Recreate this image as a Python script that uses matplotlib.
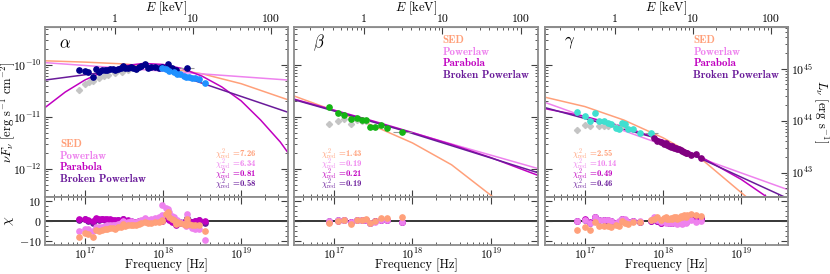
#!/usr/bin/env python3
import numpy as np
import matplotlib
matplotlib.use('Agg')
import matplotlib.pyplot as plt
from matplotlib.ticker import (LogLocator, NullFormatter, FixedLocator,
                               FuncFormatter, MultipleLocator)

HZ_PER_KEV = 2.418e17
LOG_LUM_OFFSET = 55.07          # log10 of L_nu / (nu F_nu) scale on the right axis
LOG_XLIM = (16.49, 19.60)
LOG_YLIM = (-12.54, -9.27)

MODEL_NAMES = ['SED', 'Powerlaw', 'Parabola', 'Broken Powerlaw']
MODEL_COLORS = ['#ffa07a', '#ee82ee', '#c000c0', '#6a1b9a']

# ---------------- panel alpha ----------------
a_nu_dark = [16.927, 16.996, 17.038, 17.099, 17.145, 17.183, 17.218, 17.253, 17.286, 17.321,
             17.355, 17.388, 17.423, 17.458, 17.483, 17.517, 17.551, 17.586, 17.619, 17.654,
             17.688, 17.722, 17.765, 17.808, 17.850, 17.894, 17.945, 17.987, 18.064, 18.115,
             18.167, 18.308]
a_flux_dark = [-10.096, -10.121, -10.140, -10.237, -10.077, -10.129, -10.102, -10.090, -10.090, -10.083,
               -10.077, -10.096, -10.077, -10.063, -10.013, -10.063, -10.052, -10.038, -10.063, -10.077,
               -10.044, -10.019, -9.987, -10.052, -10.038, -10.038, -10.052, -10.038, -9.987, -10.063,
               -10.102, -10.052]
a_nu_light = [17.987, 18.038, 18.081, 18.137, 18.179, 18.222, 18.265, 18.295, 18.329, 18.372,
              18.414, 18.458, 18.542]
a_flux_light = [-10.052, -10.077, -10.115, -10.140, -10.167, -10.179, -10.206, -10.225, -10.231, -10.244,
                -10.256, -10.269, -10.352]
a_nu_grey = [16.927, 16.996, 17.047, 17.100, 17.175, 17.240, 17.300, 17.390, 17.470, 17.550, 17.650]
a_flux_grey = [-10.48, -10.36, -10.33, -10.30, -10.26, -10.22, -10.19, -10.16, -10.13, -10.10, -10.08]

# residuals (dark points followed by light points)
a_res_sed = [-8.2, -6.0, -6.5, -8.0, -4.5, -5.0, -4.5, -4.0, -4.0, -3.5, -3.5, -3.8, -3.0, -2.8, -1.5, -2.5,
             -2.2, -1.8, -2.0, -2.2, -1.5, -1.0, -0.3, -1.2, -0.8, -0.5, -0.3, 0.2, 4.5, 1.0, -1.5, 1.0,
             0.5, 3.5, 2.0, 0.5, -0.5, -1.0, -1.5, -2.0, -1.5, -2.0, -1.8, -2.0, -4.8]
a_res_pl = [-5.2, -3.8, -4.2, -5.2, -3.0, -3.2, -2.8, -2.5, -2.2, -2.0, -1.8, -2.0, -1.5, -1.2, 0.0, -0.8,
            -0.5, 0.0, -0.5, -0.5, 0.2, 0.5, 1.5, 0.5, 1.0, 1.5, 2.0, 8.0, 6.0, 2.5, -0.5, 3.5,
            3.0, 6.5, 4.5, 2.0, 0.5, -0.5, -1.5, -2.5, -2.0, -3.5, -3.8, -4.0, -9.5]
a_res_par = [1.2, 1.0, 0.5, 0.0, 1.5, 1.0, 1.2, 0.8, 1.0, 0.8, 0.5, 0.3, 0.5, 0.2, 1.0, 0.0,
             0.3, 0.2, -0.3, -0.5, 0.0, 0.2, 0.8, -0.5, -0.2, 0.0, 0.0, -0.2, 2.0, -0.5, -2.0, 0.5,
             0.0, 1.5, 0.5, -0.5, -0.5, -0.8, -0.8, -1.0, -0.3, -0.5, 0.0, 0.5, 0.0]
a_res_bpl = [0.5, 0.8, 0.2, -0.8, 1.0, 0.5, 0.8, 0.5, 0.5, 0.3, 0.2, 0.0, 0.3, 0.0, 1.0, -0.3,
             0.0, 0.2, -0.5, -0.5, 0.0, 0.2, 1.0, -0.2, 0.0, 0.2, 0.3, 0.3, 2.5, 0.0, -1.5, 1.5,
             0.3, 1.8, 0.8, 0.0, -0.3, -0.5, -0.5, -0.8, -0.2, -0.5, 0.0, 0.3, -1.0]
a_chi = [7.26, 6.34, 0.81, 0.58]

# model curves, sampled from the figure (log nu, log nuF_nu)
a_sed_nu = [16.49, 17.0, 17.5, 18.0, 18.5, 19.0, 19.6]
a_sed = [-9.92, -9.945, -9.98, -10.05, -10.17, -10.36, -10.67]
a_pl_nu = [16.49, 19.6]
a_pl = [-9.955, -10.29]
a_par_nu = [16.49, 16.75, 17.0, 17.25, 17.5, 17.75, 18.0, 18.25, 18.5, 18.75, 19.0, 19.25, 19.5, 19.63]
a_par = [-10.82, -10.52, -10.29, -10.12, -10.015, -9.971, -9.99, -10.07, -10.215, -10.42,
         -10.69, -11.06, -11.48, -11.75]
a_bpl_nu = [16.49, 17.85, 19.6]
a_bpl = [-10.29, -10.02, -10.91]

# ---------------- panel beta ----------------
b_nu_green = [16.936, 17.047, 17.128, 17.214, 17.286, 17.350, 17.400, 17.458, 17.526, 17.594,
              17.680, 17.868]
b_flux_green = [-10.813, -10.923, -10.956, -11.044, -11.025, -11.063, -11.063, -11.190, -11.187, -11.160,
                -11.217, -11.290]
b_nu_grey = [16.936, 17.047, 17.128, 17.214, 17.286, 17.350, 17.400]
b_flux_grey = [-11.14, -11.07, -11.04, -11.13, -11.06, -11.08, -11.08]
b_res_sed = [-1.0, 0.0, 0.3, -1.3, 0.3, 0.5, 0.8, -1.0, 0.0, 1.3, 1.3, 2.2]
b_res_pl = [-0.2, 0.3, 0.5, -0.5, 0.3, 0.3, 0.5, -0.8, -0.3, 0.5, 0.5, -0.5]
b_res_par = [-0.3, 0.2, 0.5, -0.6, 0.3, 0.3, 0.5, -0.8, -0.2, 0.5, 0.5, -0.4]
b_res_bpl = [-0.2, 0.3, 0.5, -0.5, 0.3, 0.3, 0.5, -0.8, -0.2, 0.6, 0.6, -0.3]
b_chi = [1.43, 0.19, 0.21, 0.19]

b_sed_nu = [16.49, 17.0, 17.5, 18.0, 18.5, 19.1]
b_sed = [-10.60, -10.88, -11.17, -11.50, -11.92, -12.62]
b_pl_nu = [16.49, 19.6]
b_pl = [-10.66, -11.99]
b_par_nu = [16.49, 17.0, 17.5, 18.0, 18.5, 19.0, 19.6]
b_par = [-10.66, -10.87, -11.08, -11.30, -11.53, -11.78, -12.12]
b_bpl_nu = [16.49, 17.9, 19.6]
b_bpl = [-10.67, -11.27, -12.07]

# ---------------- panel gamma ----------------
g_nu_cyan = [16.901, 17.000, 17.064, 17.124, 17.180, 17.244, 17.300, 17.340, 17.394, 17.436,
             17.478, 17.510, 17.555, 17.615, 17.705, 17.853]
g_flux_cyan = [-10.898, -10.975, -11.071, -10.933, -11.071, -11.077, -11.110, -11.135, -11.210, -11.230,
               -11.120, -11.144, -11.240, -11.230, -11.310, -11.310]
g_nu_purple = [17.885, 17.927, 17.970, 18.013, 18.035, 18.055, 18.077, 18.099, 18.120, 18.141,
               18.162, 18.183, 18.205, 18.227, 18.248, 18.269, 18.290, 18.312, 18.355, 18.420, 18.483]
g_flux_purple = [-11.41, -11.456, -11.475, -11.52, -11.50, -11.54, -11.55, -11.57, -11.56, -11.59,
                 -11.60, -11.615, -11.62, -11.635, -11.66, -11.667, -11.69, -11.70, -11.73, -11.717, -11.79]
g_nu_grey = [16.901, 17.000, 17.064, 17.180, 17.244, 17.300, 17.394, 17.478]
g_flux_grey = [-11.25, -11.16, -11.18, -11.17, -11.18, -11.17, -11.20, -11.17]
g_res_sed = [-4.3, -3.2, -4.5, -0.5, -2.7, -2.5, -2.7, -3.2, -2.2, -2.5, -0.2, -0.8, -1.5, -0.5, -0.5, 0.5,
             1.2, 1.8, 0.5, 1.5, 2.0, 0.8, 1.2, 1.5, 0.8, 1.8, 2.2, 1.0, 1.5, 2.5, 1.8, 2.8, 2.0, 3.0,
             3.5, 3.2, 2.5]
g_res_pl = [-0.2, 0.5, -0.8, 1.8, 0.3, 0.5, 0.3, -0.2, -1.0, 0.0, 1.2, 0.8, -0.3, 0.2, 0.0, 0.5,
            1.8, 0.5, -0.5, 0.0, -0.8, -0.5, -1.0, -0.3, -1.2, -0.5, 0.0, -1.5, -0.8, -0.2, -1.3, -0.5,
            -1.0, 0.0, 0.5, -0.3, -0.2]
g_res_par = [0.2, 0.8, -0.5, 2.2, 0.5, 0.5, 0.3, 0.0, -0.8, -0.5, 1.0, 0.5, -0.5, 0.0, -0.3, 0.0,
             1.0, 0.2, -0.8, 0.2, -0.5, -0.5, -0.8, 0.0, -1.0, -0.2, 0.3, -1.0, -0.5, 0.2, -0.8, 0.0,
             -0.5, 0.5, 1.0, 0.3, 0.8]
g_res_bpl = [0.0, 0.5, -0.8, 2.0, 0.3, 0.3, 0.2, -0.2, -1.0, -0.7, 0.8, 0.3, -0.7, -0.2, -0.5, -0.2,
             1.0, 0.0, -0.8, 0.0, -0.5, -0.5, -0.8, 0.0, -1.0, -0.3, 0.2, -1.2, -0.5, 0.0, -1.0, 0.0,
             -0.5, 0.3, 0.8, 0.5, 1.5]
g_chi = [2.55, 10.14, 0.49, 0.46]

g_sed_nu = [16.49, 17.0, 17.5, 18.0, 18.5, 19.1]
g_sed = [-10.62, -10.80, -11.06, -11.40, -11.82, -12.58]
g_pl_nu = [16.49, 19.6]
g_pl = [-10.72, -12.40]
g_par_nu = [16.49, 17.0, 17.5, 18.0, 18.5, 19.0, 19.35]
g_par = [-10.84, -10.99, -11.19, -11.45, -11.78, -12.20, -12.56]
g_bpl_nu = [16.49, 17.9, 19.6]
g_bpl = [-10.82, -11.40, -12.57]


def lin(v):
    return np.power(10.0, np.asarray(v, dtype=float))


def xerr_of(log_nu, dex=0.022, last=None):
    nu = lin(log_nu)
    d = np.full(len(nu), dex)
    if last is not None:
        d[-1] = last
    return [nu - nu * 10 ** -d, nu * 10 ** d - nu]


def style_axis(ax, spine_col='0.55'):
    for s in ax.spines.values():
        s.set_color(spine_col)
        s.set_linewidth(1.3)
    ax.tick_params(which='both', direction='in', color='0.25', labelsize=8.5, pad=2.5)
    ax.tick_params(which='major', length=5, width=0.8)
    ax.tick_params(which='minor', length=2.5, width=0.6)


def draw_panel(fig, left, panel):
    width = 0.2928
    ax = fig.add_axes([left, 0.281, width, 0.6204])
    rax = fig.add_axes([left, 0.1058, width, 0.1752], sharex=ax)

    ax.set_xscale('log')
    ax.set_yscale('log')
    ax.set_xlim(lin(LOG_XLIM[0]), lin(LOG_XLIM[1]))
    ax.set_ylim(lin(LOG_YLIM[0]), lin(LOG_YLIM[1]))

    # model curves
    for (cnu, cval), col in zip(panel['curves'], MODEL_COLORS):
        ax.plot(lin(cnu), lin(cval), color=col, lw=1.1, zorder=2)

    # absorbed data (grey diamonds)
    gnu, gfl = panel['grey']
    ax.errorbar(lin(gnu), lin(gfl), xerr=xerr_of(gnu), yerr=lin(gfl) * 0.06,
                fmt='D', ms=3.1, color='#c4c4c4', ecolor='#c4c4c4', elinewidth=0.8,
                capsize=0, zorder=3)
    # unabsorbed data
    for (dnu, dfl, col, last) in panel['data']:
        ax.errorbar(lin(dnu), lin(dfl), xerr=xerr_of(dnu, last=last), yerr=lin(dfl) * 0.06,
                    fmt='o', ms=3.8, color=col, ecolor='0.6', elinewidth=0.8,
                    capsize=0, zorder=4)

    # residuals, SED drawn last so it sits on top
    rnu = lin(panel['res_nu'])
    rxerr = xerr_of(panel['res_nu'])
    rax.axhline(0, color='k', lw=1.1, zorder=1)
    pairs = list(zip(panel['residuals'], MODEL_COLORS))
    for res, col in pairs[::-1]:
        rax.errorbar(rnu, res, xerr=rxerr, yerr=0.8, fmt='o', ms=3.8, color=col,
                     ecolor='0.7', elinewidth=0.8, capsize=0, zorder=3)
    rax.set_ylim(-12, 12)

    for a in (ax, rax):
        style_axis(a)
        a.xaxis.set_major_locator(LogLocator(base=10, numticks=10))
        a.xaxis.set_minor_locator(LogLocator(base=10, subs=np.arange(2, 10), numticks=20))
    ax.yaxis.set_major_locator(LogLocator(base=10, numticks=10))
    ax.yaxis.set_minor_locator(LogLocator(base=10, subs=np.arange(2, 10), numticks=20))
    ax.tick_params(axis='x', which='both', top=False, bottom=True, labelbottom=False)
    ax.tick_params(axis='y', which='both', left=True, right=True, labelleft=panel['first'])
    if panel['last']:
        ax.tick_params(axis='y', which='both', right=False)
    if not panel['first']:
        ax.yaxis.set_major_formatter(NullFormatter())
    rax.tick_params(axis='x', which='both', top=True, bottom=True, pad=1.5)
    rax.tick_params(axis='y', which='both', left=True, right=True, labelleft=panel['first'])
    rax.yaxis.set_major_locator(MultipleLocator(10))
    rax.yaxis.set_minor_locator(MultipleLocator(2.5))

    # x label below the residual panel
    fig.text(left + width / 2, 9 / 274, 'Frequency [Hz]', fontsize=9,
             ha='center', va='center')

    # energy axis on top
    sec = ax.secondary_xaxis('top', functions=(lambda x: x / HZ_PER_KEV,
                                               lambda e: e * HZ_PER_KEV))
    sec.xaxis.set_major_locator(FixedLocator([1, 10, 100]))
    sec.xaxis.set_major_formatter(FuncFormatter(lambda v, p: f'{v:g}'))
    sec.xaxis.set_minor_locator(FixedLocator(
        [m * 10.0 ** k for k in (-1, 0, 1, 2) for m in range(2, 10)]))
    sec.xaxis.set_minor_formatter(NullFormatter())
    sec.tick_params(which='both', direction='in', color='0.25', labelsize=8.5, pad=2)
    sec.tick_params(which='major', length=5, width=0.8)
    sec.tick_params(which='minor', length=2.5, width=0.6)
    sec.spines['top'].set_color('0.55')
    fig.text(left + width / 2, 1 - 8 / 274, r'$E$ [keV]', fontsize=9,
             ha='center', va='center')

    # right-hand luminosity axis
    if panel['last']:
        tw = ax.twinx()
        tw.set_yscale('log')
        tw.set_ylim(lin(LOG_YLIM[0] + LOG_LUM_OFFSET), lin(LOG_YLIM[1] + LOG_LUM_OFFSET))
        style_axis(tw)
        tw.yaxis.set_major_locator(LogLocator(base=10, numticks=10))
        tw.yaxis.set_minor_locator(LogLocator(base=10, subs=np.arange(2, 10), numticks=20))
        fig.text(821 / 830, 1 - 112 / 274, r'$L_\nu$ [erg s$^{-1}$]', fontsize=9,
                 rotation=270, ha='center', va='center')

    # panel label
    ax.text(panel['tag_x'], 0.905, panel['tag'], transform=ax.transAxes,
            fontsize=12, ha='center', va='center')

    # legend text
    lx, ly = panel['legend_xy']
    for i, (name, col) in enumerate(zip(MODEL_NAMES, MODEL_COLORS)):
        ax.text(lx, ly - i * 0.069, name, transform=ax.transAxes, color=col,
                fontsize=8, family='cmb10', va='center', ha='left')

    # reduced chi-square values
    cx = panel['chi_x']
    for i, (val, col) in enumerate(zip(panel['chi'], MODEL_COLORS)):
        ax.text(cx, 0.253 - i * 0.059, r'$\chi^2_{\rm red}$ =' + f'{val:.2f}',
                transform=ax.transAxes, color=col, fontsize=6.3, family='cmb10',
                va='center', ha='left')

    if panel['first']:
        fig.text(8 / 830, 1 - 112 / 274, r'$\nu F_\nu$ [erg s$^{-1}$ cm$^{-2}$]',
                 fontsize=9, rotation=90, ha='center', va='center')
        fig.text(9 / 830, 1 - 221 / 274, r'$\chi$', fontsize=10, rotation=90,
                 ha='center', va='center')
    return ax, rax


def main():
    plt.rcParams['font.family'] = 'serif'
    plt.rcParams['font.serif'] = ['cmr10', 'DejaVu Serif']
    plt.rcParams['mathtext.fontset'] = 'cm'
    plt.rcParams['axes.formatter.use_mathtext'] = True
    plt.rcParams['axes.unicode_minus'] = False

    fig = plt.figure(figsize=(8.3, 2.74), dpi=100)

    panels = [
        dict(first=True, last=False, tag=r'$\alpha$', tag_x=0.083,
             curves=[(a_sed_nu, a_sed), (a_pl_nu, a_pl), (a_par_nu, a_par), (a_bpl_nu, a_bpl)],
             grey=(a_nu_grey, a_flux_grey),
             data=[(a_nu_dark, a_flux_dark, '#00008b', 0.09),
                   (a_nu_light, a_flux_light, '#1e90ff', None)],
             res_nu=a_nu_dark + a_nu_light,
             residuals=[a_res_sed, a_res_pl, a_res_par, a_res_bpl],
             chi=a_chi, legend_xy=(0.062, 0.312), chi_x=0.70),
        dict(first=False, last=False, tag=r'$\beta$', tag_x=0.10,
             curves=[(b_sed_nu, b_sed), (b_pl_nu, b_pl), (b_par_nu, b_par), (b_bpl_nu, b_bpl)],
             grey=(b_nu_grey, b_flux_grey),
             data=[(b_nu_green, b_flux_green, '#14b414', 0.12)],
             res_nu=b_nu_green,
             residuals=[b_res_sed, b_res_pl, b_res_par, b_res_bpl],
             chi=b_chi, legend_xy=(0.61, 0.924), chi_x=0.11),
        dict(first=False, last=True, tag=r'$\gamma$', tag_x=0.10,
             curves=[(g_sed_nu, g_sed), (g_pl_nu, g_pl), (g_par_nu, g_par), (g_bpl_nu, g_bpl)],
             grey=(g_nu_grey, g_flux_grey),
             data=[(g_nu_cyan, g_flux_cyan, '#40e0d0', 0.08),
                   (g_nu_purple, g_flux_purple, '#800080', None)],
             res_nu=g_nu_cyan + g_nu_purple,
             residuals=[g_res_sed, g_res_pl, g_res_par, g_res_bpl],
             chi=g_chi, legend_xy=(0.61, 0.924), chi_x=0.11),
    ]
    for left, p in zip([0.0542, 0.3548, 0.6566], panels):
        draw_panel(fig, left, p)

    fig.savefig('out.png', dpi=100)
    plt.close(fig)


if __name__ == '__main__':
    main()
